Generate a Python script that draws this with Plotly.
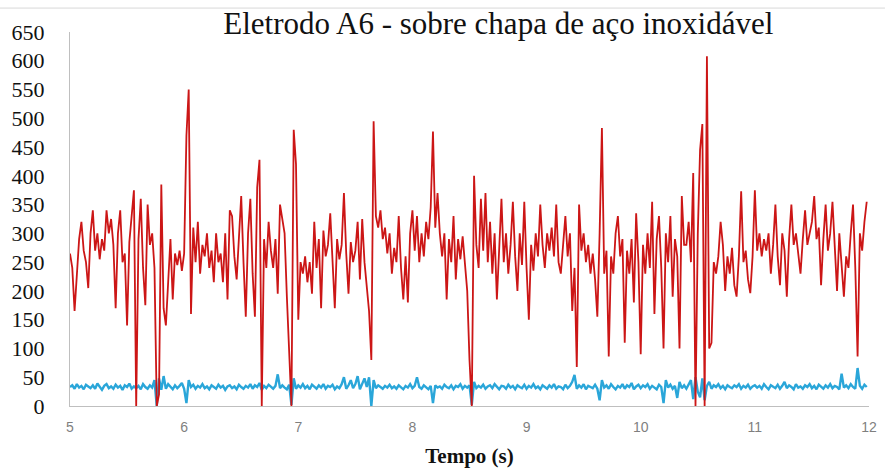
import plotly.graph_objects as go

# Sampling of the recorded signals (s)
t_start = 5.0
dt = 0.02

# Red series (signal, A6 electrode), one row = 0.2 s
red_values = [
    265, 240, 165, 230, 290, 320, 270, 250, 205, 300,
    340, 270, 300, 255, 290, 270, 340, 300, 325, 280,
    170, 300, 340, 250, 265, 140, 285, 330, 375, 0,
    290, 360, 240, 175, 350, 280, 300, 240, 0, 20,
    385, 170, 140, 215, 290, 185, 265, 245, 270, 235,
    265, 470, 550, 160, 310, 250, 320, 230, 280, 260,
    300, 240, 270, 215, 300, 250, 265, 215, 300, 185,
    340, 330, 260, 220, 290, 365, 250, 155, 300, 360,
    230, 155, 380, 428, 0, 290, 240, 320, 270, 240,
    290, 195, 350, 320, 300, 190, 80, 0, 480, 420,
    150, 250, 230, 260, 215, 250, 195, 320, 240, 290,
    170, 305, 260, 280, 335, 250, 170, 290, 255, 280,
    370, 265, 195, 285, 250, 270, 320, 220, 325, 250,
    210, 165, 80, 495, 330, 310, 340, 290, 310, 265,
    300, 230, 275, 250, 330, 240, 185, 260, 180, 300,
    340, 270, 330, 250, 300, 260, 320, 290, 345, 477,
    310, 370, 300, 260, 300, 185, 290, 250, 330, 220,
    290, 255, 295, 240, 200, 80, 0, 400, 280, 240,
    360, 270, 370, 250, 320, 230, 300, 185, 280, 360,
    250, 300, 230, 280, 355, 260, 200, 300, 245, 355,
    240, 150, 280, 235, 300, 260, 350, 280, 240, 300,
    270, 310, 260, 350, 250, 230, 280, 330, 260, 300,
    165, 240, 68, 350, 270, 300, 250, 280, 230, 265,
    220, 155, 300, 483, 230, 270, 86, 260, 230, 300,
    330, 260, 290, 110, 270, 230, 290, 180, 335, 250,
    90, 280, 230, 300, 240, 355, 160, 290, 330, 240,
    100, 300, 250, 330, 190, 290, 260, 100, 365, 280,
    280, 320, 250, 405, 0, 300, 445, 490, 0, 608,
    100, 110, 250, 230, 260, 320, 280, 200, 260, 230,
    275, 210, 190, 260, 373, 250, 270, 220, 196, 260,
    375, 270, 300, 260, 290, 270, 300, 230, 280, 350,
    260, 210, 300, 270, 190, 290, 350, 280, 300, 260,
    230, 290, 340, 280, 300, 320, 365, 290, 310, 210,
    290, 350, 270, 300, 355, 280, 200, 300, 250, 190,
    260, 240, 300, 350, 240, 86, 300, 270, 320, 355,
]

# Blue series (reference signal)
blue_values = [
    33, 36, 30, 38, 32, 35, 29, 37, 34, 31,
    36, 30, 39, 33, 28, 35, 38, 31, 34, 30,
    37, 32, 35, 28, 36, 33, 39, 30, 34, 31,
    35, 29, 38, 33, 30, 36, 32, 45, 0, 48,
    28, 52, 30, 38, 33, 29, 36, 31, 35, 40,
    30, 5, 45, 33, 37, 30, 35, 32, 38, 31,
    34, 29, 36, 33, 30, 37, 32, 35, 28, 34,
    36, 31, 34, 29, 37, 33, 30, 35, 32, 38,
    30, 36, 33, 40, 28, 35, 31, 37, 33, 30,
    35, 55, 31, 36, 32, 29, 37, 2, 48, 30,
    36, 32, 38, 31, 35, 29, 37, 33, 30, 36,
    32, 38, 30, 35, 33, 37, 29, 34, 31, 38,
    50, 30, 36, 45, 31, 38, 52, 29, 40, 48,
    33, 50, 0, 45, 31, 36, 33, 30, 35, 32,
    37, 31, 34, 30, 36, 33, 29, 35, 32, 38,
    31, 35, 50, 33, 30, 36, 32, 29, 35, 5,
    36, 32, 34, 30, 37, 33, 31, 36, 29, 35,
    33, 38, 30, 35, 32, 36, 2, 42, 31, 35,
    32, 37, 30, 34, 36, 31, 38, 33, 29, 35,
    34, 30, 37, 32, 35, 29, 36, 33, 31, 37,
    30, 35, 32, 38, 31, 34, 29, 36, 33, 30,
    36, 32, 38, 30, 34, 33, 29, 37, 31, 35,
    42, 54, 30, 36, 32, 38, 29, 35, 33, 31,
    37, 30, 10, 45, 32, 36, 30, 38, 33, 29,
    35, 32, 38, 30, 36, 33, 40, 29, 34, 37,
    31, 36, 33, 38, 30, 35, 32, 29, 37, 33,
    5, 45, 32, 37, 30, 35, 14, 42, 31, 36,
    30, 38, 45, 12, 50, 25, 15, 48, 10, 35,
    42, 30, 36, 33, 38, 31, 35, 29, 36, 33,
    31, 36, 33, 38, 30, 35, 32, 37, 30, 34,
    36, 32, 35, 30, 38, 33, 29, 36, 34, 31,
    37, 30, 35, 42, 31, 36, 33, 29, 38, 32,
    34, 30, 36, 33, 38, 31, 35, 29, 37, 33,
    30, 36, 32, 38, 31, 35, 33, 29, 56, 32,
    36, 31, 38, 33, 30, 66, 35, 30, 37, 33,
]

y_ticks = list(range(0, 651, 50))
x_ticks = [5, 6, 7, 8, 9, 10, 11, 12]

title_text = "Eletrodo A6 - sobre chapa de aço inoxidável"
x_title = "Tempo (s)"

t_red = [round(t_start + dt * i, 2) for i in range(len(red_values))]
t_blue = [round(t_start + dt * i, 2) for i in range(len(blue_values))]

fig = go.Figure()
fig.add_trace(go.Scatter(
    x=t_blue, y=blue_values, mode="lines",
    line=dict(color="#2aa6d9", width=2.4),
    showlegend=False, hoverinfo="skip",
))
fig.add_trace(go.Scatter(
    x=t_red, y=red_values, mode="lines",
    line=dict(color="#cc1616", width=1.8),
    showlegend=False, hoverinfo="skip",
))

fig.update_layout(
    width=885, height=474,
    margin=dict(l=70, r=16, t=32, b=68, autoexpand=False),
    paper_bgcolor="white", plot_bgcolor="white",
    title=dict(
        text=title_text, xref="container", x=0.563, xanchor="center",
        yref="container", y=0.952, yanchor="middle",
        font=dict(family="Liberation Serif", size=31, color="#111111"),
    ),
    xaxis=dict(
        range=[5, 12], tickvals=x_ticks, ticktext=[str(v) for v in x_ticks],
        showgrid=False, zeroline=False, automargin=False,
        showline=True, linecolor="#bfbfbf", linewidth=1,
        ticks="", ticklabelstandoff=8,
        tickfont=dict(family="Liberation Sans", size=14, color="#7f7f7f"),
        title=dict(text="<b>" + x_title + "</b>", standoff=14,
                   font=dict(family="Liberation Serif", size=21, color="#111111")),
    ),
    yaxis=dict(
        range=[0, 650], tickvals=y_ticks, ticktext=[str(v) for v in y_ticks],
        showgrid=False, zeroline=False, automargin=False,
        showline=True, linecolor="#bfbfbf", linewidth=1,
        ticks="", ticklabelstandoff=20,
        tickfont=dict(family="Liberation Serif", size=22, color="#111111"),
    ),
)

# light chart border line at the top of the picture
fig.add_shape(type="line", xref="paper", yref="paper",
              x0=-0.09, x1=1.02, y0=1.064, y1=1.064,
              line=dict(color="#d9d9d9", width=1))

# remove the default page margin so the figure sits at the window's corner
fig.write_html("out.html",
               config={"displayModeBar": False},
               post_script="document.body.style.margin='0';document.body.style.padding='0';")
